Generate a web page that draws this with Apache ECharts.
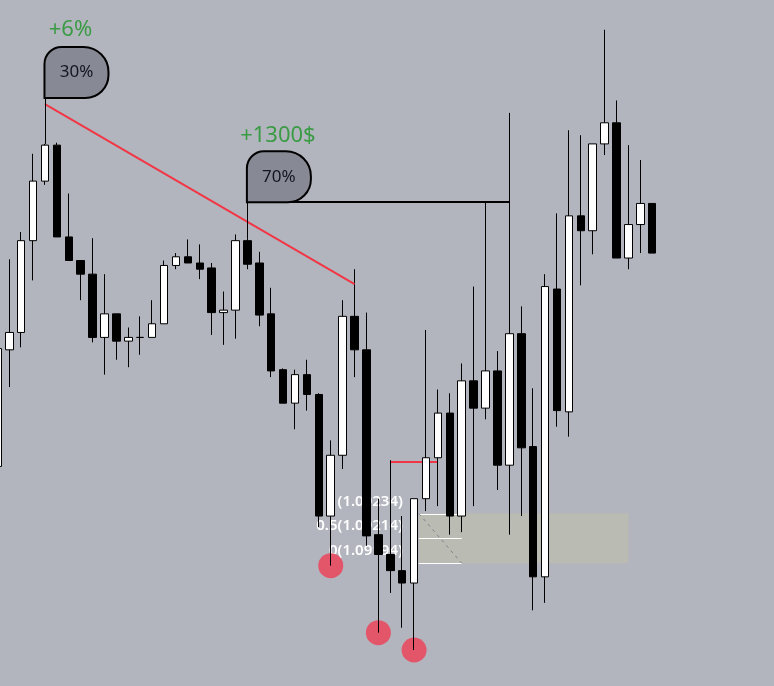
<!DOCTYPE html>
<html>
<head>
<meta charset="utf-8">
<script src="https://cdn.jsdelivr.net/npm/echarts@6/dist/echarts.min.js"></script>
<style>
html,body{margin:0;padding:0;background:#b2b5be;}
#c{width:774px;height:686px;}
</style>
</head>
<body>
<div id="c"></div>
<script>
// ---- data (index j = bar position, first bar is partly cut off at the left edge) ----
const categories = Array.from({length: 66}, (_, j) => 'bar' + j);

const opens = [1.09272,1.09366,1.09380,1.09454,1.09502,1.09531,1.09457,1.09438,1.09427,1.09376,
  1.09395,1.09373,1.09376,1.09376,1.09387,1.09434,1.09441,1.09436,1.09432,1.09396,
  1.09398,1.09454,1.09436,1.09395,1.09350,1.09323,1.09346,1.09330,1.09232,1.09281,
  1.09393,1.09366,1.09217,1.09201,1.09188,1.09178,1.09246,1.09279,1.09315,1.09232,
  1.09341,1.09319,1.09349,1.09273,1.09379,1.09288,1.09183,1.09415,1.09316,1.09474,
  1.09462,1.09532,1.09549,1.09440,1.09467,1.09484];
const closes = [1.09367,1.09380,1.09454,1.09502,1.09531,1.09457,1.09438,1.09427,1.09376,1.09395,
  1.09373,1.09376,1.09376,1.09387,1.09434,1.09441,1.09436,1.09431,1.09396,1.09398,
  1.09454,1.09435,1.09394,1.09349,1.09323,1.09346,1.09330,1.09232,1.09281,1.09393,
  1.09366,1.09216,1.09201,1.09188,1.09178,1.09246,1.09279,1.09315,1.09232,1.09341,
  1.09319,1.09349,1.09273,1.09379,1.09287,1.09183,1.09417,1.09317,1.09474,1.09462,
  1.09532,1.09549,1.09440,1.09467,1.09484,1.09444];
const lows = [1.09269,1.09336,1.09368,1.09422,1.09499,1.09457,1.09438,1.09406,1.09372,1.09346,
  1.09358,1.09352,1.09362,1.09376,1.09387,1.09431,1.09436,1.09423,1.09378,1.09370,
  1.09375,1.09431,1.09385,1.09344,1.09323,1.09302,1.09317,1.09223,1.09192,1.09270,
  1.09344,1.09208,1.09138,1.09170,1.09142,1.09124,1.09236,1.09240,1.09217,1.09219,
  1.09240,1.09310,1.09253,1.09217,1.09232,1.09156,1.09162,1.09304,1.09296,1.09418,
  1.09443,1.09523,1.09440,1.09431,1.09444,1.09444];
const highs = [1.09370,1.09439,1.09461,1.09524,1.09532,1.09533,1.09492,1.09438,1.09456,1.09427,
  1.09395,1.09384,1.09393,1.09406,1.09438,1.09444,1.09455,1.09451,1.09436,1.09413,
  1.09459,1.09456,1.09445,1.09416,1.09351,1.09350,1.09358,1.09331,1.09293,1.09406,
  1.09431,1.09396,1.09246,1.09277,1.09232,1.09246,1.09382,1.09334,1.09331,1.09355,
  1.09417,1.09485,1.09365,1.09557,1.09401,1.09335,1.09427,1.09476,1.09543,1.09539,
  1.09532,1.09624,1.09567,1.09531,1.09519,1.09484];

const priceMin = 1.09095;
const priceMax = 1.09648;
const lastPrice = 1.09444;

// annotations
const flagBars = [4, 21];
const flagPrices = [1.09569, 1.09485];
const flagTexts = ['30%', '70%'];
const gainTexts = ['+6%', '+1300$'];
const trendBars = [4, 30];
const trendPrices = [1.09564, 1.09419];
const levelLineBars = [21, 43];
const levelLinePrice = 1.09485;
const redLevelBars = [33, 37];
const redLevelPrice = 1.09276;
const circleBars = [28, 32, 35];
const fibLevels = [1, 0.5, 0];
const fibPrices = [1.09234, 1.09214, 1.09194];
const fibStartBar = 35.4, fibEndBar = 39, fibZoneEndBar = 53;

// ---- build ----
const candleData = categories.map((_, j) =>
  j < opens.length ? [opens[j], closes[j], lows[j], highs[j]] : '-');
const circleData = circleBars.map(j => [categories[j], lows[j]]);

const noLabel = {show: false};
const seg = (b0, p0, b1, p1, style) => [
  {coord: [categories[b0], p0], lineStyle: style},
  {coord: [categories[b1], p1], lineStyle: style}
];

const option = {
  backgroundColor: '#b2b5be',
  animation: false,
  grid: {left: -8.6, top: 0, width: 785.86, height: 686, containLabel: false, outerBoundsMode: 'none'},
  xAxis: {type: 'category', data: categories, show: false, boundaryGap: true},
  yAxis: {type: 'value', min: priceMin, max: priceMax, show: false, splitLine: {show: false}},
  series: [
    {
      type: 'candlestick',
      z: 2,
      barWidth: 8,
      data: candleData,
      itemStyle: {
        color: '#ffffff', color0: '#000000',
        borderColor: '#000000', borderColor0: '#000000', borderColorDoji: '#000000',
        borderWidth: 1
      },
      emphasis: {disabled: true},
      markLine: {
        z: 1, silent: true, symbol: ['none', 'none'], label: noLabel,
        emphasis: {disabled: true},
        data: [
          {yAxis: lastPrice, lineStyle: {color: '#7c7f8a', width: 1, type: [2, 3]}},
          seg(redLevelBars[0], redLevelPrice, redLevelBars[1], redLevelPrice,
              {color: '#f23645', width: 2, type: 'solid'})
        ]
      }
    },
    {
      type: 'scatter',
      z: 1,
      symbolSize: 25,
      data: circleData,
      itemStyle: {color: '#e3566a', opacity: 1},
      emphasis: {disabled: true},
      markLine: {
        z: 5, silent: true, symbol: ['none', 'none'], label: noLabel,
        emphasis: {disabled: true},
        data: [
          seg(trendBars[0], trendPrices[0], trendBars[1], trendPrices[1],
              {color: '#f23645', width: 2, type: 'solid'}),
          seg(levelLineBars[0], levelLinePrice, levelLineBars[1], levelLinePrice,
              {color: '#000000', width: 2, type: 'solid'}),
          seg(flagBars[0], flagPrices[0], flagBars[0], highs[flagBars[0]],
              {color: '#000000', width: 1, type: 'solid'}),
          seg(flagBars[1], flagPrices[1], flagBars[1], highs[flagBars[1]],
              {color: '#000000', width: 1, type: 'solid'})
        ]
      }
    }
  ]
};

const chart = echarts.init(document.getElementById('c'), null, {renderer: 'canvas'});
chart.setOption(option);

const xAt = f => {
  const a = Math.floor(f);
  const x0 = chart.convertToPixel({xAxisIndex: 0}, categories[a]);
  const x1 = chart.convertToPixel({xAxisIndex: 0}, categories[a + 1]);
  return x0 + (x1 - x0) * (f - a);
};
const yAt = p => chart.convertToPixel({yAxisIndex: 0}, p);

const els = [];
// fib zone
const fx0 = xAt(fibStartBar), fx1 = xAt(fibEndBar), fz1 = xAt(fibZoneEndBar);
const fyTop = yAt(fibPrices[0]), fyBot = yAt(fibPrices[fibPrices.length - 1]);
els.push({type: 'rect', z: 1, silent: true,
  shape: {x: fx0, y: fyTop, width: fz1 - fx0, height: fyBot - fyTop},
  style: {fill: '#babbb2'}});
fibLevels.forEach((lvl, i) => {
  const y = Math.round(yAt(fibPrices[i])) + 0.5;
  els.push({type: 'line', z: 1, silent: true,
    shape: {x1: fx0, y1: y, x2: fx1, y2: y},
    style: {stroke: '#ffffff', lineWidth: 1}});
  els.push({type: 'text', z: 1, silent: true, x: fx0 - 16, y: y - 13,
    style: {text: lvl + '(' + fibPrices[i].toFixed(5) + ')', fill: '#ffffff',
      font: '600 15px "Noto Sans"', align: 'right', verticalAlign: 'middle'}});
});
els.push({type: 'line', z: 1, silent: true,
  shape: {x1: fx0, y1: fyTop, x2: fx1, y2: fyBot},
  style: {stroke: '#7e818c', lineWidth: 1, lineDash: [3, 4]}});

// flags
const gainOffX = [26, 31], gainOffY = [-17, -15.5];
flagBars.forEach((j, i) => {
  const x = xAt(j) - 0.5, y = yAt(flagPrices[i]);
  els.push({type: 'rect', z: 10, silent: true,
    shape: {x: x, y: y - 51, width: 64, height: 51, r: [17, 25, 23, 0]},
    style: {fill: '#878a94', stroke: '#000000', lineWidth: 2}});
  els.push({type: 'text', z: 11, silent: true, x: x + 32, y: y - 25.5,
    style: {text: flagTexts[i], fill: '#131722', font: '17px "Noto Sans"',
      align: 'center', verticalAlign: 'middle'}});
  els.push({type: 'text', z: 11, silent: true, x: x + gainOffX[i], y: y - 51 + gainOffY[i],
    style: {text: gainTexts[i], fill: '#3b9b45', font: '22px "Noto Sans"',
      align: 'center', verticalAlign: 'middle'}});
});

chart.setOption({graphic: {elements: els}});
</script>
</body>
</html>
